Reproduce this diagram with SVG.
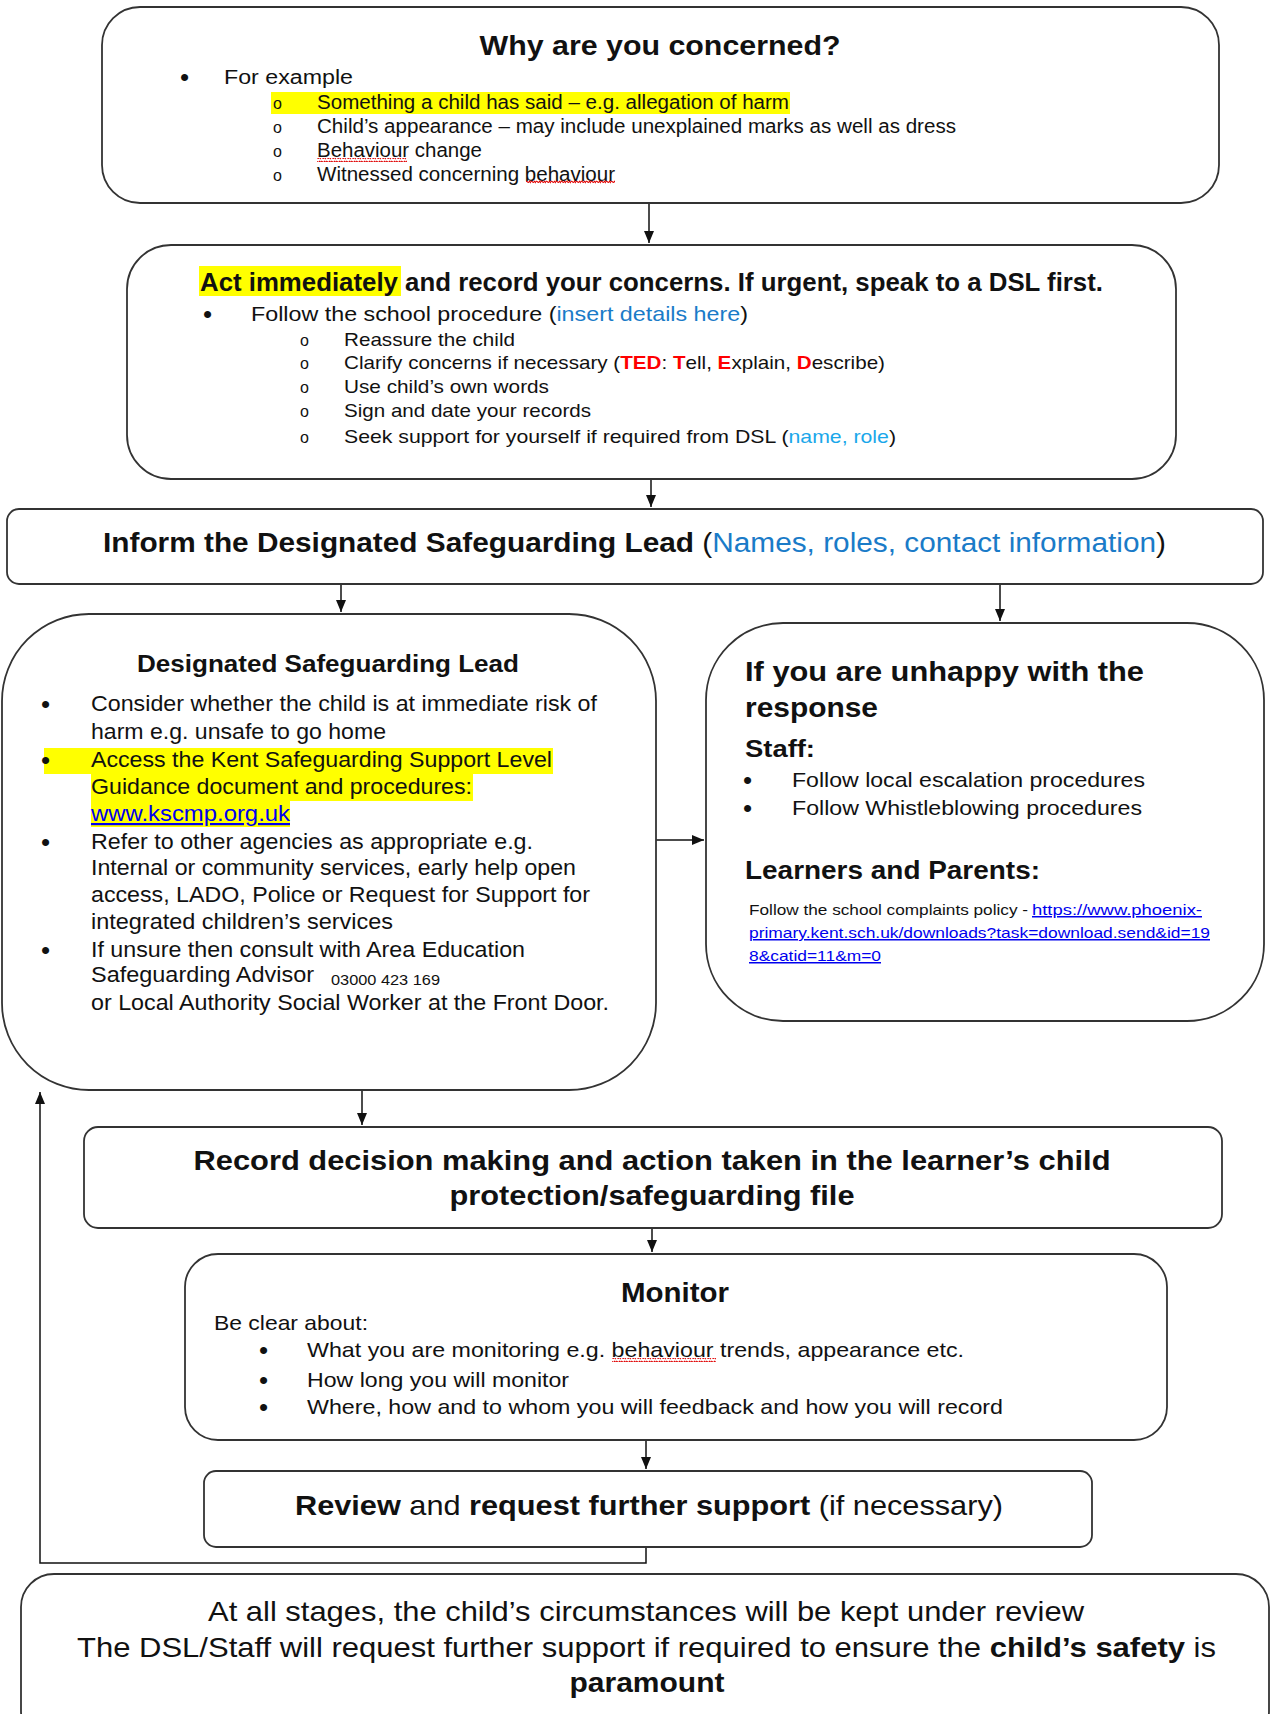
<svg xmlns="http://www.w3.org/2000/svg" width="1271" height="1714" viewBox="0 0 1271 1714">
<style>
.box{fill:#fff;stroke:#333;stroke-width:1.8}
.t{font-family:"Liberation Sans",Arial,sans-serif;fill:#111}
.b{font-weight:bold}
.bu{font-family:"Liberation Sans",Arial,sans-serif;fill:#111;font-size:26px}
.hl{fill:#ffff00}
.blue{fill:#1a7bc8}
.lblue{fill:#1aa7ea}
.red{fill:#ff0000;font-weight:bold}
.link{fill:#0000ee;text-decoration:underline}
.conn{fill:none;stroke:#111;stroke-width:1.5}
.sq{fill:url(#squig)}
</style>
<defs>
<marker id="arr" viewBox="0 0 12 10" refX="12" refY="5" markerWidth="12" markerHeight="10" markerUnits="userSpaceOnUse" orient="auto">
<path d="M0 0 L12 5 L0 10 z" fill="#111"/>
</marker>
<pattern id="squig" width="5" height="4" patternUnits="userSpaceOnUse">
<path d="M0 3.2 Q1.25 0.2 2.5 1.8 T5 0.8" fill="none" stroke="#e00000" stroke-width="1.1"/>
</pattern>
<clipPath id="c1"><rect x="100" y="160" width="700" height="25"/></clipPath>
</defs>

<g id="connectors">
<path class="conn" d="M649 203 V243" marker-end="url(#arr)"/>
<path class="conn" d="M651 479 V507" marker-end="url(#arr)"/>
<path class="conn" d="M341 584 V612" marker-end="url(#arr)"/>
<path class="conn" d="M1000 584 V621" marker-end="url(#arr)"/>
<path class="conn" d="M656 840 H704" marker-end="url(#arr)"/>
<path class="conn" d="M362 1090 V1125" marker-end="url(#arr)"/>
<path class="conn" d="M652 1228 V1252" marker-end="url(#arr)"/>
<path class="conn" d="M646 1440 V1469" marker-end="url(#arr)"/>
<path class="conn" d="M646 1547 V1563 H40 V1092" marker-end="url(#arr)"/>
</g>

<g id="concern">
<rect class="box" x="102" y="7" width="1117" height="196" rx="38"/>
<text class="t b" x="660" y="55" font-size="27" text-anchor="middle" textLength="361" lengthAdjust="spacingAndGlyphs">Why are you concerned?</text>
<text class="bu" x="180" y="86">•</text>
<text class="t" x="224" y="84" font-size="20" textLength="129" lengthAdjust="spacingAndGlyphs">For example</text>
<rect class="hl" x="271" y="92" width="519" height="22"/>
<text class="t" x="273" y="109" font-size="16">o</text>
<text class="t" x="317" y="109" font-size="20" textLength="472" lengthAdjust="spacingAndGlyphs">Something a child has said – e.g. allegation of harm</text>
<text class="t" x="273" y="133" font-size="16">o</text>
<text class="t" x="317" y="133" font-size="20" textLength="639" lengthAdjust="spacingAndGlyphs">Child’s appearance – may include unexplained marks as well as dress</text>
<text class="t" x="273" y="157" font-size="16">o</text>
<text class="t" x="317" y="157" font-size="20" textLength="165" lengthAdjust="spacingAndGlyphs">Behaviour change</text>
<rect class="sq" x="317" y="158" width="90" height="4"/>
<text class="t" x="273" y="181" font-size="16">o</text>
<g clip-path="url(#c1)">
<text class="t" x="317" y="181" font-size="20" textLength="298" lengthAdjust="spacingAndGlyphs">Witnessed concerning behaviour</text>
</g>
<rect class="sq" x="526" y="180" width="89" height="4"/>
</g>

<g id="act">
<rect class="box" x="127" y="245" width="1049" height="234" rx="44"/>
<rect class="hl" x="199" y="266" width="202" height="30"/>
<text class="t b" x="200" y="291" font-size="25" textLength="903" lengthAdjust="spacingAndGlyphs">Act immediately and record your concerns. If urgent, speak to a DSL first.</text>
<text class="bu" x="203" y="323">•</text>
<text class="t" x="251" y="321" font-size="21" textLength="497" lengthAdjust="spacingAndGlyphs">Follow the school procedure (<tspan class="blue">insert details here</tspan>)</text>
<text class="t" x="300" y="346" font-size="16">o</text>
<text class="t" x="344" y="346" font-size="19" textLength="171" lengthAdjust="spacingAndGlyphs">Reassure the child</text>
<text class="t" x="300" y="369" font-size="16">o</text>
<text class="t" x="344" y="369" font-size="19" textLength="541" lengthAdjust="spacingAndGlyphs">Clarify concerns if necessary (<tspan class="red">TED</tspan>: <tspan class="red">T</tspan>ell, <tspan class="red">E</tspan>xplain, <tspan class="red">D</tspan>escribe)</text>
<text class="t" x="300" y="393" font-size="16">o</text>
<text class="t" x="344" y="393" font-size="19" textLength="205" lengthAdjust="spacingAndGlyphs">Use child’s own words</text>
<text class="t" x="300" y="417" font-size="16">o</text>
<text class="t" x="344" y="417" font-size="19" textLength="247" lengthAdjust="spacingAndGlyphs">Sign and date your records</text>
<text class="t" x="300" y="443" font-size="16">o</text>
<text class="t" x="344" y="443" font-size="19" textLength="552" lengthAdjust="spacingAndGlyphs">Seek support for yourself if required from DSL (<tspan class="lblue">name, role</tspan>)</text>
</g>

<g id="inform">
<rect class="box" x="7" y="509" width="1256" height="75" rx="12"/>
<text class="t" x="103" y="552" font-size="27" textLength="1063" lengthAdjust="spacingAndGlyphs"><tspan class="b">Inform the Designated Safeguarding Lead </tspan>(<tspan class="blue">Names, roles, contact information</tspan>)</text>
</g>

<g id="dsl">
<rect class="box" x="2" y="614" width="654" height="476" rx="87"/>
<text class="t b" x="328" y="672" font-size="24" text-anchor="middle" textLength="382" lengthAdjust="spacingAndGlyphs">Designated Safeguarding Lead</text>
<rect class="hl" x="44" y="748" width="509" height="26"/>
<rect class="hl" x="91" y="774" width="382" height="27"/>
<rect class="hl" x="91" y="801" width="199" height="26"/>
<text class="bu" x="41" y="713">•</text>
<text class="bu" x="41" y="769">•</text>
<text class="bu" x="41" y="851">•</text>
<text class="bu" x="41" y="959">•</text>
<text class="t" x="91" y="711" font-size="22" textLength="506" lengthAdjust="spacingAndGlyphs">Consider whether the child is at immediate risk of</text>
<text class="t" x="91" y="739" font-size="22" textLength="295" lengthAdjust="spacingAndGlyphs">harm e.g. unsafe to go home</text>
<text class="t" x="91" y="767" font-size="22" textLength="461" lengthAdjust="spacingAndGlyphs">Access the Kent Safeguarding Support Level</text>
<text class="t" x="91" y="794" font-size="22" textLength="381" lengthAdjust="spacingAndGlyphs">Guidance document and procedures:</text>
<text class="t link" x="91" y="821" font-size="22" textLength="199" lengthAdjust="spacingAndGlyphs">www.kscmp.org.uk</text>
<text class="t" x="91" y="849" font-size="22" textLength="442" lengthAdjust="spacingAndGlyphs">Refer to other agencies as appropriate e.g.</text>
<text class="t" x="91" y="875" font-size="22" textLength="485" lengthAdjust="spacingAndGlyphs">Internal or community services, early help open</text>
<text class="t" x="91" y="902" font-size="22" textLength="499" lengthAdjust="spacingAndGlyphs">access, LADO, Police or Request for Support for</text>
<text class="t" x="91" y="929" font-size="22" textLength="302" lengthAdjust="spacingAndGlyphs">integrated children’s services</text>
<text class="t" x="91" y="957" font-size="22" textLength="434" lengthAdjust="spacingAndGlyphs">If unsure then consult with Area Education</text>
<text class="t" x="91" y="982" font-size="22" textLength="223" lengthAdjust="spacingAndGlyphs">Safeguarding Advisor</text>
<text class="t" x="331" y="985" font-size="14" textLength="109" lengthAdjust="spacingAndGlyphs">03000 423 169</text>
<text class="t" x="91" y="1010" font-size="22" textLength="518" lengthAdjust="spacingAndGlyphs">or Local Authority Social Worker at the Front Door.</text>
</g>

<g id="unhappy">
<rect class="box" x="706" y="623" width="558" height="398" rx="77"/>
<text class="t b" x="745" y="681" font-size="28" textLength="399" lengthAdjust="spacingAndGlyphs">If you are unhappy with the</text>
<text class="t b" x="745" y="717" font-size="28" textLength="133" lengthAdjust="spacingAndGlyphs">response</text>
<text class="t b" x="745" y="757" font-size="24" textLength="70" lengthAdjust="spacingAndGlyphs">Staff:</text>
<text class="bu" x="743" y="789">•</text>
<text class="t" x="792" y="787" font-size="21" textLength="353" lengthAdjust="spacingAndGlyphs">Follow local escalation procedures</text>
<text class="bu" x="743" y="817">•</text>
<text class="t" x="792" y="815" font-size="21" textLength="350" lengthAdjust="spacingAndGlyphs">Follow Whistleblowing procedures</text>
<text class="t b" x="745" y="879" font-size="25" textLength="295" lengthAdjust="spacingAndGlyphs">Learners and Parents:</text>
<text class="t" x="749" y="915" font-size="15" textLength="279" lengthAdjust="spacingAndGlyphs">Follow the school complaints policy -</text>
<text class="t link" x="1032" y="915" font-size="15" textLength="170" lengthAdjust="spacingAndGlyphs">https://www.phoenix-</text>
<text class="t link" x="749" y="938" font-size="15" textLength="461" lengthAdjust="spacingAndGlyphs">primary.kent.sch.uk/downloads?task=download.send&amp;id=19</text>
<text class="t link" x="749" y="961" font-size="15" textLength="132" lengthAdjust="spacingAndGlyphs">8&amp;catid=11&amp;m=0</text>
</g>

<g id="record">
<rect class="box" x="84" y="1127" width="1138" height="101" rx="14"/>
<text class="t b" x="652" y="1170" font-size="28" text-anchor="middle" textLength="917" lengthAdjust="spacingAndGlyphs">Record decision making and action taken in the learner’s child</text>
<text class="t b" x="652" y="1205" font-size="28" text-anchor="middle" textLength="405" lengthAdjust="spacingAndGlyphs">protection/safeguarding file</text>
</g>

<g id="monitor">
<rect class="box" x="185" y="1254" width="982" height="186" rx="33"/>
<text class="t b" x="675" y="1302" font-size="28" text-anchor="middle" textLength="108" lengthAdjust="spacingAndGlyphs">Monitor</text>
<text class="t" x="214" y="1330" font-size="21" textLength="154" lengthAdjust="spacingAndGlyphs">Be clear about:</text>
<text class="bu" x="259" y="1359">•</text>
<text class="t" x="307" y="1357" font-size="21" textLength="657" lengthAdjust="spacingAndGlyphs">What you are monitoring e.g. behaviour trends, appearance etc.</text>
<rect class="sq" x="612" y="1358" width="104" height="4"/>
<text class="bu" x="259" y="1389">•</text>
<text class="t" x="307" y="1387" font-size="21" textLength="262" lengthAdjust="spacingAndGlyphs">How long you will monitor</text>
<text class="bu" x="259" y="1416">•</text>
<text class="t" x="307" y="1414" font-size="21" textLength="696" lengthAdjust="spacingAndGlyphs">Where, how and to whom you will feedback and how you will record</text>
</g>

<g id="review">
<rect class="box" x="204" y="1471" width="888" height="76" rx="12"/>
<text class="t" x="295" y="1515" font-size="28" textLength="708" lengthAdjust="spacingAndGlyphs"><tspan class="b">Review</tspan> and <tspan class="b">request further support</tspan> (if necessary)</text>
</g>

<g id="summary">
<rect class="box" x="21" y="1574" width="1248" height="170" rx="33"/>
<text class="t" x="646" y="1621" font-size="28" text-anchor="middle" textLength="876" lengthAdjust="spacingAndGlyphs">At all stages, the child’s circumstances will be kept under review</text>
<text class="t" x="77" y="1657" font-size="28" textLength="1139" lengthAdjust="spacingAndGlyphs">The DSL/Staff will request further support if required to ensure the <tspan class="b">child’s safety</tspan> is</text>
<text class="t b" x="647" y="1692" font-size="28" text-anchor="middle" textLength="155" lengthAdjust="spacingAndGlyphs">paramount</text>
</g>
</svg>
